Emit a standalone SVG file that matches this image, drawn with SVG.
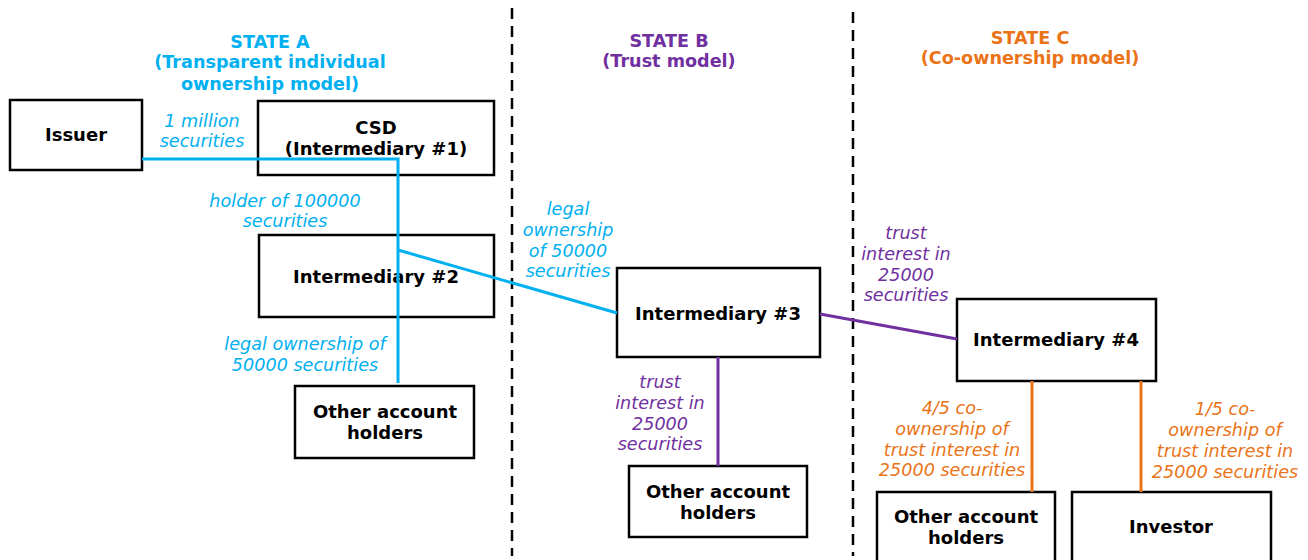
<svg xmlns="http://www.w3.org/2000/svg" width="1308" height="560" viewBox="0 0 1308 560">
<style>
.box{fill:#fff;stroke:#000;stroke-width:2.5}
.nt{font-family:"DejaVu Sans",Verdana,sans-serif;font-weight:bold;font-size:18px;fill:#000;text-anchor:middle}
.lb{font-family:"DejaVu Sans",Verdana,sans-serif;font-style:italic;font-size:17.6px;text-anchor:middle}
.tt{font-family:"DejaVu Sans",Verdana,sans-serif;font-weight:bold;font-size:17.6px;text-anchor:middle}
.blue{fill:#00B0F0}.purple{fill:#7030A0}.orange{fill:#EA7317}
.cb{stroke:#00B0F0;stroke-width:3;fill:none}
.cp{stroke:#7030A0;stroke-width:3;fill:none}
.co{stroke:#EA7317;stroke-width:3;fill:none}
.dash{stroke:#000;stroke-width:2.5;stroke-dasharray:11 7;fill:none}
</style>
<rect width="1308" height="560" fill="#fff"/>
<g id="dividers">
<line class="dash" x1="512" y1="8" x2="512" y2="556"/>
<line class="dash" x1="853" y1="12" x2="853" y2="556"/>
</g>
<g id="titles">
<text class="tt blue" x="270" y="48">STATE A</text>
<text class="tt blue" x="270" y="68">(Transparent individual</text>
<text class="tt blue" x="270" y="90">ownership model)</text>
<text class="tt purple" x="669" y="47">STATE B</text>
<text class="tt purple" x="669" y="67">(Trust model)</text>
<text class="tt orange" x="1030" y="44">STATE C</text>
<text class="tt orange" x="1030" y="64">(Co-ownership model)</text>
</g>
<g id="labels">
<text class="lb blue" x="202" y="127">1 million</text>
<text class="lb blue" x="202" y="147">securities</text>
<text class="lb blue" x="285" y="207">holder of 100000</text>
<text class="lb blue" x="285" y="227">securities</text>
<text class="lb blue" x="568" y="215">legal</text>
<text class="lb blue" x="568" y="236">ownership</text>
<text class="lb blue" x="568" y="257">of 50000</text>
<text class="lb blue" x="568" y="277">securities</text>
<text class="lb blue" x="305" y="350">legal ownership of</text>
<text class="lb blue" x="305" y="371">50000 securities</text>
<text class="lb purple" x="906" y="239">trust</text>
<text class="lb purple" x="906" y="260">interest in</text>
<text class="lb purple" x="906" y="281">25000</text>
<text class="lb purple" x="906" y="301">securities</text>
<text class="lb purple" x="660" y="388">trust</text>
<text class="lb purple" x="660" y="409">interest in</text>
<text class="lb purple" x="660" y="430">25000</text>
<text class="lb purple" x="660" y="450">securities</text>
<text class="lb orange" x="952" y="414">4/5 co-</text>
<text class="lb orange" x="952" y="435">ownership of</text>
<text class="lb orange" x="952" y="456">trust interest in</text>
<text class="lb orange" x="952" y="476">25000 securities</text>
<text class="lb orange" x="1225" y="415">1/5 co-</text>
<text class="lb orange" x="1225" y="436">ownership of</text>
<text class="lb orange" x="1225" y="457">trust interest in</text>
<text class="lb orange" x="1225" y="478">25000 securities</text>
</g>
<g id="issuer"><rect class="box" x="10" y="100" width="132" height="70"/><text class="nt" x="76" y="141">Issuer</text></g>
<g id="csd"><rect class="box" x="258" y="101" width="236" height="74"/><text class="nt" x="376" y="134">CSD</text><text class="nt" x="376" y="155">(Intermediary #1)</text></g>
<g id="int2"><rect class="box" x="259" y="235" width="235" height="82"/><text class="nt" x="376" y="283">Intermediary #2</text></g>
<g id="othersA"><rect class="box" x="295" y="386" width="179" height="72"/><text class="nt" x="385" y="418">Other account</text><text class="nt" x="385" y="439">holders</text></g>
<g id="int3"><rect class="box" x="617" y="268" width="203" height="89"/><text class="nt" x="718" y="320">Intermediary #3</text></g>
<g id="othersB"><rect class="box" x="629" y="466" width="178" height="71"/><text class="nt" x="718" y="498">Other account</text><text class="nt" x="718" y="519">holders</text></g>
<g id="int4"><rect class="box" x="957" y="299" width="199" height="82"/><text class="nt" x="1056" y="346">Intermediary #4</text></g>
<g id="othersC"><rect class="box" x="877" y="492" width="178" height="72"/><text class="nt" x="966" y="523">Other account</text><text class="nt" x="966" y="544">holders</text></g>
<g id="investor"><rect class="box" x="1072" y="492" width="199" height="72"/><text class="nt" x="1171" y="533">Investor</text></g>
<g id="connectors">
<polyline class="cb" points="142,159 398,159 398,383"/>
<line class="cb" x1="398" y1="250" x2="617" y2="313"/>
<line class="cp" x1="820" y1="314" x2="957" y2="339"/>
<line class="cp" x1="718" y1="357" x2="718" y2="466"/>
<line class="co" x1="1032" y1="381" x2="1032" y2="492"/>
<line class="co" x1="1141" y1="381" x2="1141" y2="492"/>
</g>
</svg>
